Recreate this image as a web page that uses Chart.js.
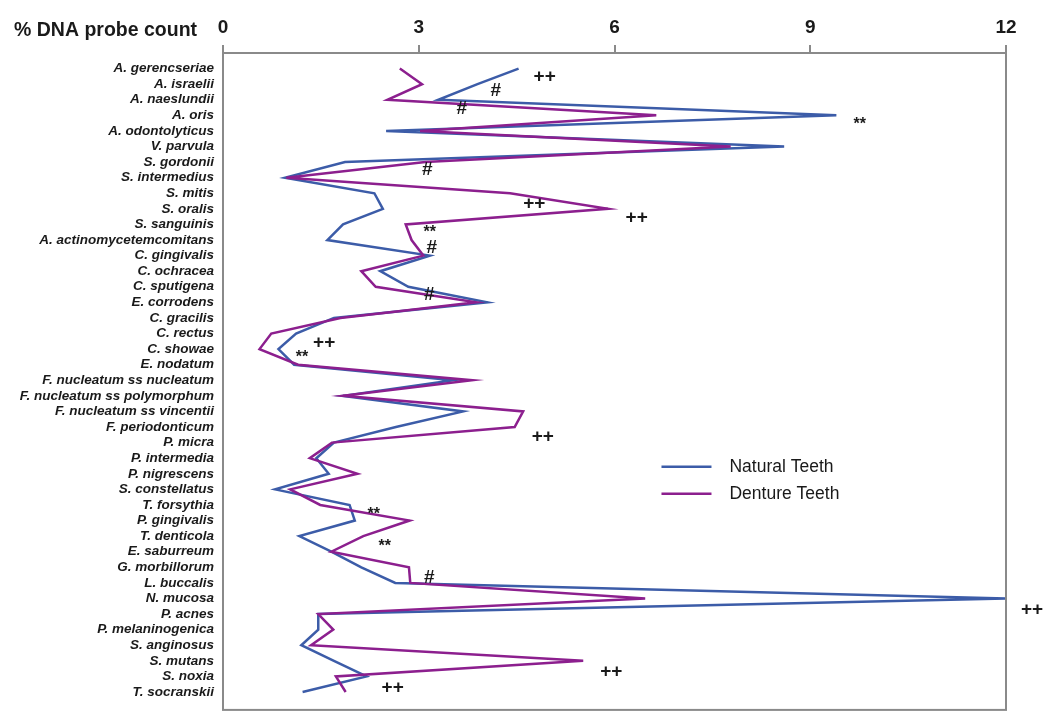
<!DOCTYPE html>
<html>
<head>
<meta charset="utf-8">
<script src="https://cdn.jsdelivr.net/npm/chart.js@4"></script>
<style>
  html, body { margin: 0; padding: 0; background: #fff; }
  #wrap { width: 1050px; height: 727px; }
</style>
</head>
<body>
<div id="wrap"><canvas id="probeChart"></canvas></div>
<script>
        // species (top to bottom)
        const species = [
            'A. gerencseriae', 'A. israelii', 'A. naeslundii', 'A. oris', 'A. odontolyticus',
            'V. parvula', 'S. gordonii', 'S. intermedius', 'S. mitis', 'S. oralis',
            'S. sanguinis', 'A. actinomycetemcomitans', 'C. gingivalis', 'C. ochracea', 'C. sputigena',
            'E. corrodens', 'C. gracilis', 'C. rectus', 'C. showae', 'E. nodatum',
            'F. nucleatum ss nucleatum', 'F. nucleatum ss polymorphum', 'F. nucleatum ss vincentii',
            'F. periodonticum', 'P. micra', 'P. intermedia', 'P. nigrescens', 'S. constellatus',
            'T. forsythia', 'P. gingivalis', 'T. denticola', 'E. saburreum', 'G. morbillorum',
            'L. buccalis', 'N. mucosa', 'P. acnes', 'P. melaninogenica', 'S. anginosus',
            'S. mutans', 'S. noxia', 'T. socranskii'
        ];

        const naturalTeeth = [
            4.53, 3.9, 3.3, 9.4, 2.5, 8.6, 1.87, 0.95, 2.32, 2.45,
            1.84, 1.6, 3.17, 2.41, 2.84, 4.05, 1.7, 1.12, 0.85, 1.09,
            3.53, 1.84, 3.68, 2.65, 1.7, 1.43, 1.62, 0.8, 1.94, 2.02,
            1.17, 1.66, 2.12, 2.64, 12, 1.46, 1.46, 1.2, 1.7, 2.2, 1.22
        ];

        const dentureTeeth = [
            2.71, 3.05, 2.52, 6.64, 3.02, 7.78, 3.1, 0.97, 4.4, 5.9,
            2.8, 2.89, 3.07, 2.12, 2.34, 3.88, 1.8, 0.74, 0.56, 1.15,
            3.82, 1.84, 4.6, 4.47, 1.67, 1.33, 2.06, 1.03, 1.49, 2.86,
            2.15, 1.66, 2.85, 2.87, 6.47, 1.46, 1.69, 1.35, 5.52, 1.73, 1.88
        ];

        const xTicks = [0, 3, 6, 9, 12];

        // significance marks: text, x value, row position
        const markText = ['++', '#', '#', '**', '#', '++', '++', '**', '#', '#',
                          '**', '++', '++', '**', '**', '#', '++', '++', '++'];
        const markX = [4.93, 4.18, 3.66, 9.76, 3.13, 4.77, 6.34, 3.17, 3.2, 3.16,
                       1.21, 1.55, 4.9, 2.31, 2.48, 3.16, 12.4, 5.95, 2.6];
        const markRow = [0.5, 1.4, 2.55, 3.35, 6.5, 8.65, 9.6, 10.25, 11.5, 14.5,
                         18.3, 17.6, 23.6, 28.35, 30.4, 32.65, 34.7, 38.7, 39.75];

        const blue = '#3c5ca8';
        const purple = '#8c1f8e';
        const fontFam = '"Liberation Sans", Arial, sans-serif';

        const toPoints = arr => arr.map((v, i) => ({ x: v, y: i }));

        // box, axis title, marks and legend
        const extras = {
            id: 'extras',
            afterDatasetsDraw(chart) {
                const ctx = chart.ctx;
                const ca = chart.chartArea;
                const xs = chart.scales.x;
                const ys = chart.scales.y;
                ctx.save();
                ctx.strokeStyle = '#8a8a8a';
                ctx.lineWidth = 2;
                ctx.strokeRect(ca.left, ca.top, ca.right - ca.left, ca.bottom - ca.top);

                ctx.fillStyle = '#1a1a1a';
                ctx.font = 'bold 19.5px ' + fontFam;
                ctx.textAlign = 'left';
                ctx.textBaseline = 'middle';
                ctx.fillText('% DNA probe count', 14, 31);

                ctx.textAlign = 'center';
                markText.forEach((t, i) => {
                    const px = xs.getPixelForValue(markX[i]);
                    let py = ys.getPixelForValue(markRow[i]);
                    if (t === '**') {
                        ctx.font = 'bold 16px ' + fontFam;
                        py += 4;
                    } else {
                        ctx.font = 'bold 19px ' + fontFam;
                    }
                    ctx.fillText(t, px, py);
                });

                // legend
                const lx = ca.left + 0.56 * (ca.right - ca.left);
                const ly = ca.top + 0.63 * (ca.bottom - ca.top);
                [['Natural Teeth', blue], ['Denture Teeth', purple]].forEach((item, i) => {
                    const y = ly + i * 27;
                    ctx.strokeStyle = item[1];
                    ctx.lineWidth = 2.5;
                    ctx.beginPath();
                    ctx.moveTo(lx, y);
                    ctx.lineTo(lx + 50, y);
                    ctx.stroke();
                    ctx.fillStyle = '#1a1a1a';
                    ctx.font = '17.5px ' + fontFam;
                    ctx.textAlign = 'left';
                    ctx.fillText(item[0], lx + 68, y);
                });
                ctx.restore();
            }
        };

        const probeCtx = document.getElementById('probeChart').getContext('2d');
        new Chart(probeCtx, {
            type: 'line',
            data: {
                datasets: [{
                    label: 'Natural Teeth',
                    data: toPoints(naturalTeeth),
                    borderColor: blue,
                    borderWidth: 2.5,
                    pointRadius: 0,
                    tension: 0,
                    order: 1
                }, {
                    label: 'Denture Teeth',
                    data: toPoints(dentureTeeth),
                    borderColor: purple,
                    borderWidth: 2.5,
                    pointRadius: 0,
                    tension: 0,
                    order: 0
                }]
            },
            options: {
                responsive: true,
                maintainAspectRatio: false,
                animation: false,
                layout: { padding: { left: 0, top: 0, right: 44, bottom: 15 } },
                plugins: {
                    legend: { display: false },
                    tooltip: { enabled: false }
                },
                scales: {
                    x: {
                        type: 'linear',
                        position: 'top',
                        min: 0,
                        max: 12,
                        afterBuildTicks: scale => {
                            scale.ticks = xTicks.map(v => ({ value: v }));
                        },
                        afterFit: scale => { scale.height = 53; },
                        ticks: {
                            padding: 6,
                            color: '#1a1a1a',
                            font: { family: fontFam, size: 19, weight: 'bold' }
                        },
                        grid: {
                            drawOnChartArea: false,
                            drawTicks: true,
                            tickLength: 8,
                            color: '#8a8a8a',
                            lineWidth: 2
                        },
                        border: { color: '#8a8a8a', width: 2 }
                    },
                    y: {
                        type: 'linear',
                        reverse: true,
                        min: -1,
                        max: 41.15,
                        afterBuildTicks: scale => {
                            scale.ticks = species.map((s, i) => ({ value: i }));
                        },
                        afterFit: scale => { scale.width = 223; },
                        ticks: {
                            autoSkip: false,
                            padding: 9,
                            color: '#1a1a1a',
                            font: { family: fontFam, size: 13.5, weight: 'bold', style: 'italic' },
                            callback: v => species[v] ?? ''
                        },
                        grid: { display: false, drawTicks: false },
                        border: { color: '#8a8a8a', width: 2 }
                    }
                }
            },
            plugins: [extras]
        });
</script>
</body>
</html>
